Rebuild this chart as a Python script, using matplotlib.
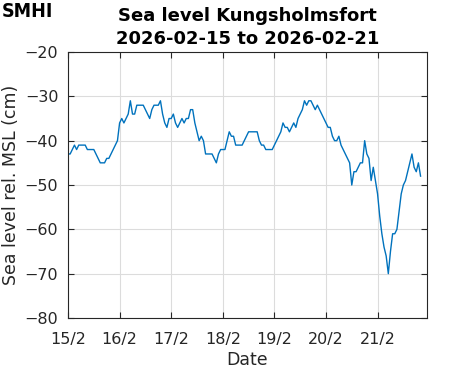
import matplotlib
matplotlib.use('Agg')
import matplotlib.pyplot as plt
import numpy as np
import pandas as pd

# hourly sea level (cm), one list per day
day_15 = [-43, -43, -42, -41, -42, -41, -41, -41, -41, -42, -42, -42,
          -42, -43, -44, -45, -45, -45, -44, -44, -43, -42, -41, -40]
day_16 = [-36, -35, -36, -35, -34, -31, -34, -34, -32, -32, -32, -32,
          -33, -34, -35, -33, -32, -32, -32, -31, -34, -36, -37, -35]
day_17 = [-35, -34, -36, -37, -36, -35, -36, -35, -35, -33, -33, -36,
          -38, -40, -39, -40, -43, -43, -43, -43, -44, -45, -43, -42]
day_18 = [-42, -42, -40, -38, -39, -39, -41, -41, -41, -41, -40, -39,
          -38, -38, -38, -38, -38, -40, -41, -41, -42, -42, -42, -42]
day_19 = [-41, -40, -39, -38, -36, -37, -37, -38, -37, -36, -37, -35,
          -34, -33, -31, -32, -31, -31, -32, -33, -32, -33, -34, -35]
day_20 = [-36, -37, -37, -39, -40, -40, -39, -41, -42, -43, -44, -45,
          -50, -47, -47, -46, -45, -45, -40, -43, -44, -49, -46, -49]
day_21 = [-52, -57, -61, -64, -66, -70, -65, -61, -61, -60, -56, -52,
          -50, -49, -47, -45, -43, -46, -47, -45, -48]

level = day_15 + day_16 + day_17 + day_18 + day_19 + day_20 + day_21
tick_labels = ['15/2', '16/2', '17/2', '18/2', '19/2', '20/2', '21/2']
title = 'Sea level Kungsholmsfort\n2026-02-15 to 2026-02-21'

times = pd.date_range('2026-02-15 00:00', periods=len(level), freq='h')
tick_days = pd.date_range('2026-02-15', periods=len(tick_labels), freq='D')

plt.rcParams['font.family'] = ['DejaVu Sans']

fig = plt.figure(figsize=(4.71, 3.71), dpi=100)
ax = fig.add_axes([0.1444, 0.1429, 0.7622, 0.7169])

ax.plot(times, level, color='#0072BD', linewidth=1.0)

ax.set_xlim(pd.Timestamp('2026-02-15 00:00'), pd.Timestamp('2026-02-21 23:00'))
ax.set_ylim(-80, -20)
ax.set_yticks(np.arange(-80, -19, 10))
ax.set_xticks(tick_days)
ax.set_xticklabels(tick_labels)

ax.grid(True, color='#dcdcdc', linewidth=0.8)
ax.set_axisbelow(True)
ax.tick_params(direction='in', top=True, right=True, length=4, width=0.8,
               labelsize=11.5, colors='#262626', labelcolor='#262626')
ax.tick_params(axis='x', pad=10)
ax.tick_params(axis='y', pad=7)
for sp in ax.spines.values():
    sp.set_color('#262626')
    sp.set_linewidth(0.8)

ax.set_xlabel('Date', fontsize=12.5, color='#262626', labelpad=3)
ax.set_ylabel('Sea level rel. MSL (cm)', fontsize=12.5, color='#262626', labelpad=3)
ax.set_title(title, fontsize=13, fontweight='bold', linespacing=1.3, pad=6)

fig.text(0.004, 0.995, 'SMHI', fontsize=14, fontweight='black', va='top', ha='left',
         fontstretch='condensed')

fig.savefig('out.png', dpi=100)
